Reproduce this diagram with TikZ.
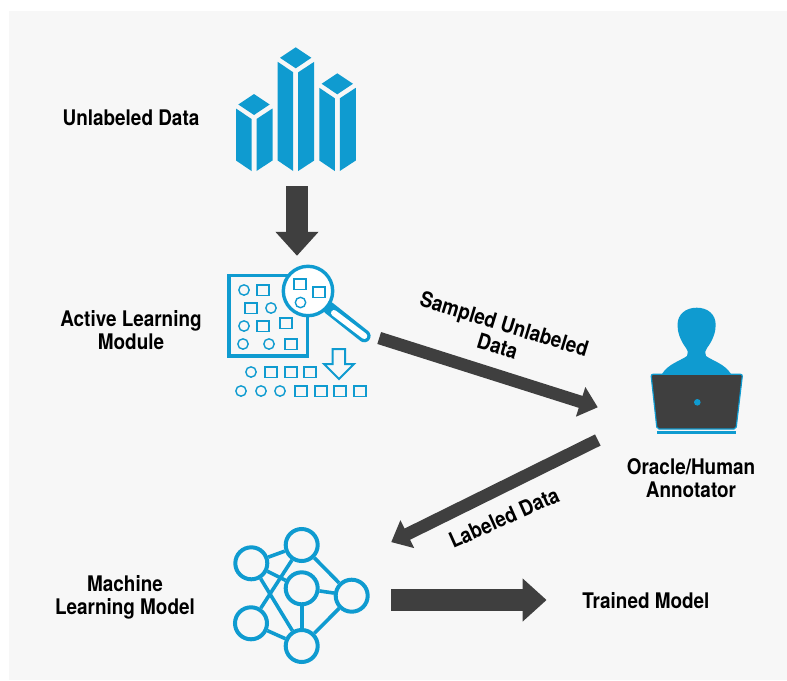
\documentclass[tikz,border=0pt]{standalone}
\usepackage{fontspec}
\setmainfont[FakeStretch=0.88]{TeX Gyre Heros}
\usetikzlibrary{arrows.meta,positioning}
\definecolor{iconblue}{HTML}{0F9BD0}
\definecolor{arrowgray}{HTML}{3F3F3F}
\definecolor{panelgray}{HTML}{F7F7F7}

\tikzset{
  label text/.style={font=\bfseries\fontsize{21.5}{23}\selectfont, align=center, text=black, inner sep=0pt},
  icon box/.style={inner sep=0pt, rectangle},
  big arrow/.style={draw=arrowgray, line width=22.7pt, -{Triangle[length=24pt,width=41.7pt]}},
  thin arrow/.style={draw=arrowgray, line width=12.5pt, -{Triangle[length=18pt,width=30pt]}},
  neuron/.style={draw=iconblue, circle, line width=4pt, minimum size=32pt, inner sep=0pt},
  synapse/.style={draw=iconblue, line width=3.6pt},
  dot/.style={draw=iconblue, line width=1.4pt},
}

\begin{document}
\begin{tikzpicture}[x=1pt,y=-1pt]

  \useasboundingbox (0,0) rectangle (787,680);
  \fill[panelgray] (9,11) rectangle (787,680);

  % icon areas
  \node[icon box, minimum width=100pt, minimum height=138pt] (data) at (297,117) {};
  \node[icon box, minimum width=151pt, minimum height=164pt] (alm) at (303.5,338) {};
  \node[icon box, minimum width=146pt, minimum height=130pt] (oracle) at (671,422) {};
  \node[icon box, minimum width=157pt, minimum height=140pt] (mlm) at (312.5,600) {};

  % labels
  \node[label text] (unlabeled) at (131,118) {Unlabeled Data};
  \node[label text] (active) at (131,330) {Active Learning\\Module};
  \node[label text] (machine) at (125,597) {Machine\\Learning Model};
  \node[label text] (human) at (691,478) {Oracle/Human\\Annotator};
  \node[label text] (trained) at (646,601) {Trained Model};
  \node[label text, rotate=-17] (sampled) at (501,335) {Sampled Unlabeled\\Data};
  \node[label text, rotate=24] (labeled) at (504,517.7) {Labeled Data};

  % buildings
  \foreach \cx/\ty in {254/94, 295.7/47.3, 337.3/73.3} {
    \fill[iconblue] (\cx,\ty) -- ++(15.7,10.5) -- ++(-15.7,10.5) -- ++(-15.7,-10.5) -- cycle;
    \fill[iconblue] (\cx-18,\ty+14.5) -- ++(15.5,10.5) -- (\cx-2.5,171) -- (\cx-18,160.5) -- cycle;
    \fill[iconblue] (\cx+2.5,\ty+25) -- ++(16,-10.5) -- (\cx+18.5,160.5) -- (\cx+2.5,171) -- cycle;
  }

  % magnifier and samples
  \draw[iconblue, line width=3.4pt] (229,275.7) rectangle (307.7,356);
  \foreach \px/\py in {244/290, 271/308, 244/326, 243/344, 269/344, 251/372, 241/391, 261/391, 280/391} {
    \draw[dot] (\px,\py) circle (5.2);
  }
  \foreach \px/\py in {263/290, 251/308, 263/326, 286/323, 291/344, 271/372, 291/372, 310/372, 301/391, 321/391, 340/391, 360/391} {
    \draw[dot] (\px-6,\py-5.2) rectangle (\px+6,\py+5.2);
  }
  \draw[iconblue, line width=12.6pt, line cap=round] (329,308) -- (364.3,336);
  \draw[white, line width=6pt, line cap=round] (334,313) -- (364.3,336);
  \fill[white] (308,291) circle (24.7);
  \draw[iconblue, line width=3.4pt] (308,291) circle (24.7);
  \foreach \px/\py in {300/284, 319/292} {
    \draw[dot] (\px-6,\py-5.2) rectangle (\px+6,\py+5.2);
  }
  \draw[dot] (300.5,302.5) circle (5.2);
  \draw[iconblue, line width=2pt, line join=miter] (332.5,349) -- (345,349) -- (345,364) -- (354,364) -- (339,379) -- (324,364) -- (332.5,364) -- cycle;

  % annotator
  \fill[iconblue] (662,374) .. controls (668,364) and (680,361) .. (687,356)
    .. controls (688,352) and (688,350) .. (686,348)
    .. controls (680,340) and (677.5,332) .. (677.5,325)
    .. controls (677.5,314) and (686,307.7) .. (696.7,307.7)
    .. controls (707.5,307.7) and (715.7,314) .. (715.7,325)
    .. controls (715.7,332) and (713,340) .. (707,348)
    .. controls (705,350) and (705,352) .. (706,356)
    .. controls (713,361) and (725,364) .. (731,374) -- cycle;
  \draw[iconblue, fill=arrowgray, line width=1.2pt, rounded corners=2pt] (651,374.3) -- (742.5,374.3) -- (736,429) -- (657,429) -- cycle;
  \fill[iconblue] (656.7,430.5) rectangle (735.7,433.5);
  \fill[iconblue] (697.3,402.3) circle (3.3);

  % network
  \node[neuron] (na) at (251.3,563.3) {};
  \node[neuron] (nb) at (301.7,545) {};
  \node[neuron] (nc) at (301.7,588.3) {};
  \node[neuron] (nd) at (351.7,595.7) {};
  \node[neuron] (ne) at (251,623.3) {};
  \node[neuron] (nf) at (301.7,646) {};
  \foreach \from/\to in {na/nb, na/nc, na/nf, nb/ne, nb/nd, nc/nd, nc/nf, nd/nf, ne/nf} {
    \draw[synapse] (\from) -- (\to);
  }

  % flow
  \draw[big arrow] (data.south) -- (data.south |- alm.north);
  \draw[big arrow, shorten >=35.7pt] (mlm.east) -- (mlm.east -| trained.west);
  \draw[thin arrow] (alm.east) -- ([yshift=14.7pt]oracle.west);
  \draw[thin arrow] ([yshift=-18pt]oracle.west) -- ([yshift=-12.3pt]mlm.north east);

\end{tikzpicture}
\end{document}
